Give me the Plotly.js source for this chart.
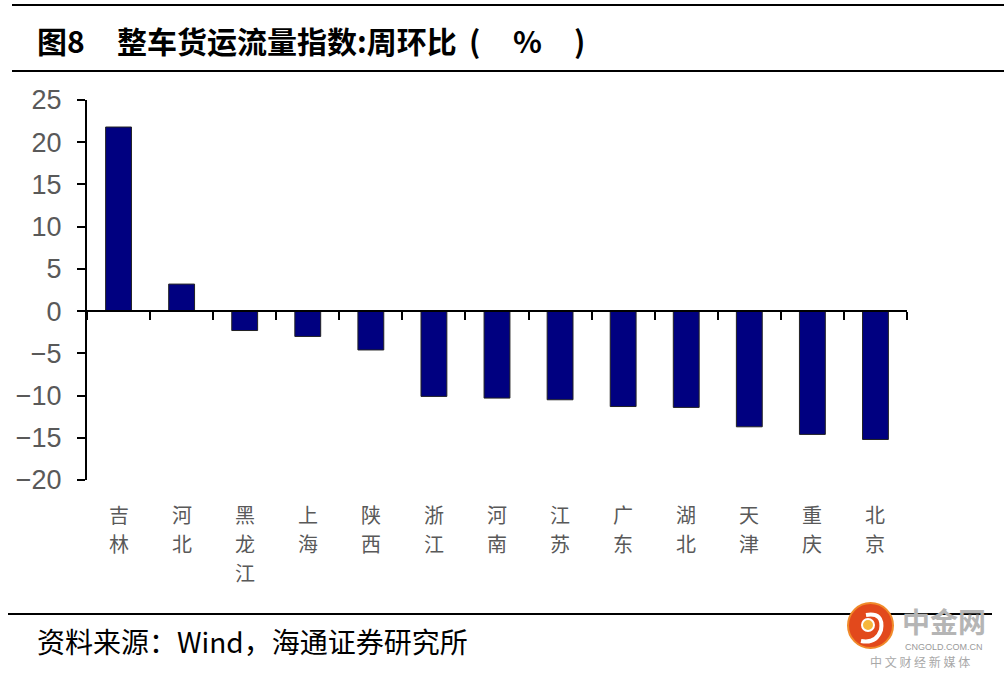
<!DOCTYPE html>
<html>
<head>
<meta charset="utf-8">
<script src="https://cdn.plot.ly/plotly-3.0.1.min.js"></script>
<style>
html,body{margin:0;padding:0;background:#fff;}
#chart{width:1004px;height:676px;}
</style>
</head>
<body>
<div id="chart"></div>
<script>
// ---- data ----
const regions = ['吉林','河北','黑龙江','上海','陕西','浙江','河南','江苏','广东','湖北','天津','重庆','北京'];
const values = [21.8, 3.2, -2.3, -3.0, -4.6, -10.1, -10.3, -10.5, -11.3, -11.4, -13.7, -14.6, -15.2];
const yTickVals = [-20, -15, -10, -5, 0, 5, 10, 15, 20, 25];
const yRange = [-20, 25];
const titleLabel = '图8';
const titleMain = '整车货运流量指数:周环比';
const titleUnit = ['(', '%', ')'];
const sourceText = '资料来源：Wind，海通证券研究所';

// ---- layout geometry ----
const W = 1004, H = 676;
const L = 87, R = 97, T = 100, B = 196;
const PW = W - L - R, PH = H - T - B;
const px = x => (x - L) / PW;
const py = y => (H - B - y) / PH;

const cjk = '"Noto Sans CJK SC", "Noto Sans", sans-serif';
const latin = 'Liberation Sans, Arial, sans-serif';

const traces = [
  {
    type: 'bar',
    x: regions,
    y: values,
    marker: {color: '#000080', line: {color: '#222222', width: 1}},
    hoverinfo: 'x+y'
  },
  {
    type: 'scatter',
    mode: 'markers',
    x: regions,
    y: regions.map(() => 0),
    xaxis: 'x2',
    marker: {opacity: 0, size: 1},
    hoverinfo: 'skip',
    showlegend: false
  }
];

function ann(text, x, y, opts) {
  return Object.assign({text: text, xref: 'paper', yref: 'paper', x: px(x), y: py(y),
    xanchor: 'left', yanchor: 'middle', showarrow: false}, opts);
}

const titleFont = {family: cjk, size: 30, color: '#000000'};

// vertical category labels: one character per row, placed on the category axis
const labelRowY = [514, 543, 572];
const labelAnns = [];
regions.forEach(r => {
  r.split('').forEach((ch, k) => {
    labelAnns.push({text: ch, xref: 'x', yref: 'paper', x: r, y: py(labelRowY[k]),
      xanchor: 'center', yanchor: 'middle', showarrow: false, borderpad: 0,
      font: {family: cjk, size: 20, color: '#595959'}});
  });
});

const layout = {
  width: W, height: H,
  margin: {l: L, r: R, t: T, b: B},
  paper_bgcolor: '#ffffff',
  plot_bgcolor: '#ffffff',
  showlegend: false,
  bargap: 0.59,
  xaxis: {
    type: 'category',
    categoryarray: regions,
    range: [-0.5, regions.length - 0.5],
    showticklabels: false,
    showline: false, ticks: '', showgrid: false, zeroline: false
  },
  xaxis2: {
    type: 'category',
    categoryarray: regions,
    overlaying: 'x',
    anchor: 'free',
    position: (0 - yRange[0]) / (yRange[1] - yRange[0]),
    range: [-0.5, regions.length - 0.5],
    showline: true, linecolor: '#000000', linewidth: 2,
    ticks: 'outside', tickson: 'boundaries', ticklen: 8, tickwidth: 2, tickcolor: '#000000',
    showticklabels: false, showgrid: false, zeroline: false
  },
  yaxis: {
    range: yRange,
    tickmode: 'array',
    tickvals: yTickVals,
    showline: true, linecolor: '#000000', linewidth: 2,
    ticks: 'outside', ticklen: 8, tickwidth: 2, tickcolor: '#000000',
    showgrid: false, zeroline: false,
    ticklabelstandoff: 10,
    tickfont: {family: latin, size: 27, color: '#595959'}
  },
  shapes: [
    {type: 'line', xref: 'paper', yref: 'paper', x0: px(12), x1: px(1004), y0: py(5), y1: py(5), line: {color: '#000', width: 2}},
    {type: 'line', xref: 'paper', yref: 'paper', x0: px(12), x1: px(1004), y0: py(71), y1: py(71), line: {color: '#000', width: 2}},
    {type: 'line', xref: 'paper', yref: 'paper', x0: px(8), x1: px(992), y0: py(614), y1: py(614), line: {color: '#000', width: 2}},
    // logo
    {type: 'circle', xref: 'paper', yref: 'paper', x0: px(848), x1: px(893), y0: py(648), y1: py(603), fillcolor: '#e2491c', line: {color: '#f08a2a', width: 2}},
    {type: 'path', xref: 'paper', yref: 'paper',
     path: 'M ' + px(866) + ',' + py(615) + ' Q ' + px(884) + ',' + py(612) + ' ' + px(881) + ',' + py(630) + ' Q ' + px(876) + ',' + py(644) + ' ' + px(861) + ',' + py(641),
     line: {color: '#ffffff', width: 4}},
    {type: 'circle', xref: 'paper', yref: 'paper', x0: px(862), x1: px(874), y0: py(631), y1: py(619), fillcolor: '#f6b73c', line: {color: '#ffffff', width: 2}}
  ],
  annotations: [
    ann('<b>' + titleLabel + '</b>', 35, 40, {font: titleFont}),
    ann('<b>' + titleMain + '</b>', 115, 40, {font: titleFont}),
    ann('<b>' + titleUnit[0] + '</b>', 474, 40, {xanchor: 'center', font: titleFont}),
    ann('<b>' + titleUnit[1] + '</b>', 527, 40, {xanchor: 'center', font: titleFont}),
    ann('<b>' + titleUnit[2] + '</b>', 579, 40, {xanchor: 'center', font: titleFont}),
    ann(sourceText, 35, 641, {font: {family: cjk, size: 28, color: '#000000'}}),
    ann('<b>中金网</b>', 944, 621, {xanchor: 'center', font: {family: cjk, size: 28, color: '#b5b5b5'}}),
    ann('CNGOLD.COM.CN', 944, 647, {xanchor: 'center', font: {family: latin, size: 9, color: '#9a9a9a'}}),
    ann('中 文 财 经 新 媒 体', 920, 661, {xanchor: 'center', font: {family: cjk, size: 12, color: '#a8a8a8'}})
  ].concat(labelAnns)
};

Plotly.newPlot('chart', traces, layout, {displayModeBar: false, staticPlot: true});
</script>
</body>
</html>
